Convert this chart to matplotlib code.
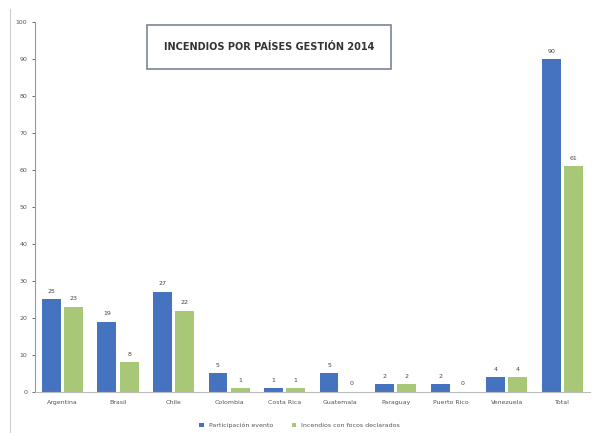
import matplotlib.pyplot as plt
import numpy as np

paises = ['Argentina', 'Brasil', 'Chile', 'Colombia', 'Costa Rica', 'Guatemala',
          'Paraguay', 'Puerto Rico', 'Venezuela', 'Total']
participacion = [25, 19, 27, 5, 1, 5, 2, 2, 4, 90]
focos = [23, 8, 22, 1, 1, 0, 2, 0, 4, 61]
serie_nombres = ['Participación evento', 'Incendios con focos declarados']

azul = '#4673c0'
verde = '#a8c878'

fig = plt.figure(figsize=(5.99, 4.33), dpi=100)
ax = fig.add_axes([0.058, 0.095, 0.927, 0.854])

x = np.arange(len(paises))
w = 0.34
b1 = ax.bar(x - 0.2, participacion, w, color=azul, label=serie_nombres[0])
b2 = ax.bar(x + 0.2, focos, w, color=verde, label=serie_nombres[1])

for bars, vals in ((b1, participacion), (b2, focos)):
    for r, v in zip(bars, vals):
        ax.text(r.get_x() + r.get_width() / 2, v + 1.5, str(v),
                ha='center', va='bottom', fontsize=4.5, color='#444444')

ax.set_xlim(-0.5, len(paises) - 0.5)
ax.set_ylim(0, 100)
ax.set_yticks(np.arange(0, 101, 10))
ax.set_xticks(x)
ax.set_xticklabels(paises)
ax.tick_params(axis='both', labelsize=4.5, colors='#555555', length=2, width=0.6)
ax.tick_params(axis='x', length=0, pad=6)

for s in ('top', 'right'):
    ax.spines[s].set_visible(False)
ax.spines['left'].set_color('#999999')
ax.spines['bottom'].set_color('#bbbbbb')
ax.spines['left'].set_linewidth(0.8)
ax.spines['bottom'].set_linewidth(0.8)

# recuadro del título
fig.text(0.449, 0.892, 'INCENDIOS POR PAÍSES GESTIÓN 2014', ha='center', va='center',
         fontsize=7, fontweight='bold', color='#333333',
         bbox=dict(boxstyle='square,pad=1.75', fc='white', ec='#7a8499', lw=1.2))

leg = fig.legend(handles=[b1, b2], loc='center', bbox_to_anchor=(0.5, 0.017),
                 ncol=2, frameon=False, fontsize=4.5, handlelength=0.7,
                 handleheight=0.7, columnspacing=3)
for t in leg.get_texts():
    t.set_color('#555555')

# línea del borde izquierdo
fig.add_artist(plt.Line2D([0.017, 0.017], [0.0, 0.98], color='#cccccc', lw=0.8))

fig.savefig('out.png', dpi=100)
